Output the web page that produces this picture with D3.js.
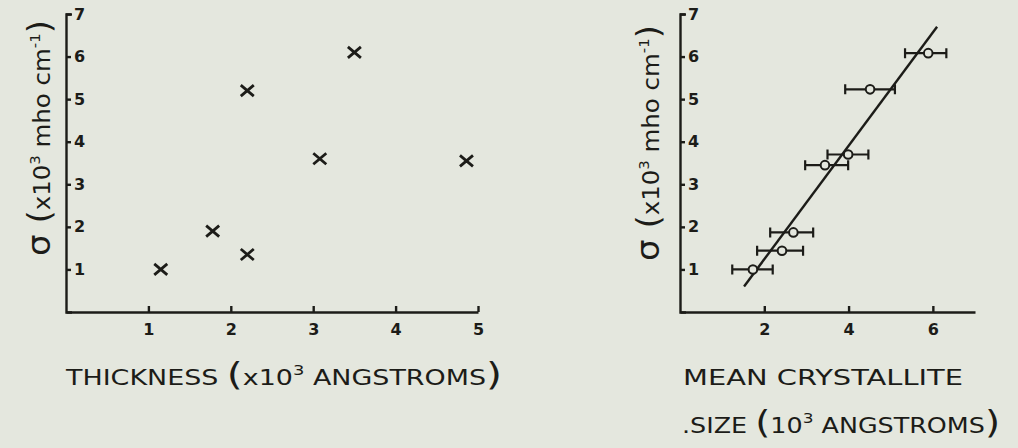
<!DOCTYPE html>
<html>
<head>
    <meta charset="utf-8">
    <style>
        body { margin: 0; background: #e4e7de; }
        svg { display: block; }
        .axis .domain, .axis .tick line { stroke: #1c1c18; stroke-width: 2.4; }
        .axis text { font-family: 'DejaVu Sans', sans-serif; font-size: 16px; fill: #1c1c18; font-weight: bold; }
        .title { font-family: 'DejaVu Sans', sans-serif; fill: #1c1c18; font-size: 21px; }
    </style>
</head>
<body>
<svg width="1018" height="448"></svg>

<script src="https://d3js.org/d3.v7.min.js"></script>
<script>
    // left panel: conductivity vs film thickness
    const thickness = [1.15, 1.78, 2.2, 2.2, 3.08, 3.5, 4.86]
    const sigmaThick = [1.0, 1.9, 1.35, 5.2, 3.6, 6.1, 3.55]

    // right panel: conductivity vs mean crystallite size (with error bars)
    const crystSize = [1.73, 2.42, 2.69, 3.44, 3.99, 4.51, 5.89]
    const sigmaCryst = [1.0, 1.44, 1.87, 3.45, 3.7, 5.23, 6.08]
    const sizeLo = [1.24, 1.83, 2.14, 2.97, 3.5, 3.92, 5.34]
    const sizeHi = [2.2, 2.92, 3.16, 3.99, 4.47, 5.1, 6.32]
    const fitX = [1.52, 6.1]
    const fitY = [0.6, 6.7]

    const yTicks = [1, 2, 3, 4, 5, 6, 7]
    const xTicksLeft = [1, 2, 3, 4, 5]
    const xTicksRight = [2, 4, 6]

    const ink = "#1c1c18"
    let svg = d3.select("svg")

    let xL = d3.scaleLinear().domain([0, 5]).range([66, 478])
    let yL = d3.scaleLinear().domain([0, 7]).range([312, 14])
    let xR = d3.scaleLinear().domain([0, 7]).range([680, 975])
    let yR = d3.scaleLinear().domain([0, 7]).range([312, 14])

    function drawAxes(x, y, xt, x0) {
        svg.append("g").attr("class", "axis")
            .attr("transform", `translate(0,${y(0)})`)
            .call(d3.axisBottom(x).tickValues(xt).tickSize(-6).tickSizeOuter(0).tickPadding(12).tickFormat(d3.format("d")))
        svg.append("g").attr("class", "axis")
            .attr("transform", `translate(${x0},0)`)
            .call(d3.axisRight(y).tickValues(yTicks).tickSize(5).tickSizeOuter(6).tickPadding(3).tickFormat(d3.format("d")))
    }
    drawAxes(xL, yL, xTicksLeft, xL(0))
    drawAxes(xR, yR, xTicksRight, xR(0))

    // crosses
    let pts = thickness.map((t, i) => [t, sigmaThick[i]])
    svg.append("g").selectAll("path").data(pts).join("path")
        .attr("transform", d => `translate(${xL(d[0])},${yL(d[1])})`)
        .attr("d", "M-6.5,-5.5L6.5,5.5M-6.5,5.5L6.5,-5.5")
        .attr("stroke", ink).attr("stroke-width", 2.8).attr("fill", "none")

    // fitted line
    svg.append("line")
        .attr("x1", xR(fitX[0])).attr("y1", yR(fitY[0]))
        .attr("x2", xR(fitX[1])).attr("y2", yR(fitY[1]))
        .attr("stroke", ink).attr("stroke-width", 2.4)

    // error bars + open circles
    let eb = svg.append("g").selectAll("g").data(crystSize).join("g")
    eb.append("path")
        .attr("d", (d, i) => {
            let a = xR(sizeLo[i]), b = xR(sizeHi[i]), yy = yR(sigmaCryst[i])
            return `M${a},${yy}H${b}M${a},${yy - 5}V${yy + 5}M${b},${yy - 5}V${yy + 5}`
        })
        .attr("stroke", ink).attr("stroke-width", 2.2).attr("fill", "none")
    eb.append("circle")
        .attr("cx", d => xR(d))
        .attr("cy", (d, i) => yR(sigmaCryst[i]))
        .attr("r", 4.3)
        .attr("fill", "#e4e7de").attr("stroke", ink).attr("stroke-width", 2)

    // title builder: parts are [text, kind] with kind "sup" or "big"
    function title(t, parts, len) {
        let up = 0
        parts.forEach(([s, kind]) => {
            let ts = t.append("tspan").text(s)
            if (kind == "sup") { ts.attr("dy", -10).style("font-size", "14px"); up = 10 }
            else if (up) { ts.attr("dy", up); up = 0 }
            if (kind == "big") ts.style("font-size", "32px")
        })
        t.attr("textLength", len).attr("lengthAdjust", "spacingAndGlyphs")
    }

    // y titles (rotated)
    function yTitle(cx, cy) {
        let t = svg.append("text").attr("class", "title")
            .attr("transform", `translate(${cx},${cy}) rotate(-90)`)
            .attr("x", -118).attr("dy", "0.35em").style("font-size", "23px")
        title(t, [["σ ", "big"], ["(", "big"], ["x10"], ["3", "sup"], [" mho cm"], ["-1", "sup"], [")", "big"]], 236)
    }
    yTitle(42, 138)
    yTitle(651, 143)

    // x titles
    title(svg.append("text").attr("class", "title").attr("x", 66).attr("y", 385),
        [["THICKNESS "], ["(", "big"], ["x10"], ["3", "sup"], [" ANGSTROMS"], [")", "big"]], 436)

    title(svg.append("text").attr("class", "title").attr("x", 683).attr("y", 385),
        [["MEAN CRYSTALLITE"]], 280)
    title(svg.append("text").attr("class", "title").attr("x", 682).attr("y", 433),
        [[".SIZE "], ["(", "big"], ["10"], ["3", "sup"], [" ANGSTROMS"], [")", "big"]], 318)
</script>
</body>
</html>
